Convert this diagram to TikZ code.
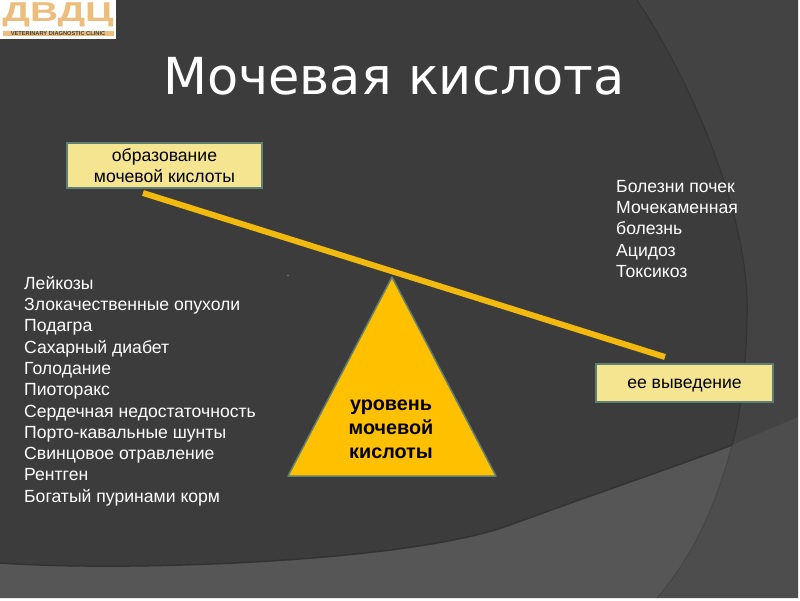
\documentclass[tikz,border=0pt]{standalone}
\usepackage{fontspec}
\usepackage{graphicx}
\setmainfont{Liberation Sans}
\newfontfamily\titlefont{DejaVu Sans}
\definecolor{basedark}{HTML}{3C3C3C}
\definecolor{rightdark}{HTML}{434343}
\definecolor{lowleft}{HTML}{565656}
\definecolor{lowright}{HTML}{4D4D4D}
\definecolor{arcline}{HTML}{333333}
\definecolor{boxfill}{HTML}{F5E591}
\definecolor{boxedge}{HTML}{5F7F74}
\definecolor{beam}{HTML}{F2B90F}
\definecolor{triangfill}{HTML}{FFC000}
\definecolor{logotan}{HTML}{EBBE7E}
\newcommand{\lowered}[1]{\raisebox{-2.5pt}[\height][\depth]{#1}}
\tikzset{
  labelbox/.style={draw=boxedge,line width=2pt,fill=boxfill,inner sep=0pt,align=center,text=black,font=\fontsize{17.6}{21}\selectfont},
  listtext/.style={anchor=north west,inner sep=0pt,align=left,text=white,font=\fontsize{17.6}{21.3}\selectfont},
}
\begin{document}
\begin{tikzpicture}[x=1pt,y=-1pt]
\useasboundingbox (0,0) rectangle (800,600);
\fill[white] (0,0) rectangle (800,600);
% background regions
\fill[basedark] (0,0) rectangle (798,598);
\fill[rightdark] (637,0) .. controls (700,95) and (752,230) .. (747,320) .. controls (746,370) and (740,420) .. (732,445) -- (798,417) -- (798,0) -- cycle;
\fill[lowleft] (0,563) .. controls (130,572) and (410,562) .. (510,525) .. controls (600,492) and (680,465) .. (732,445) .. controls (715,510) and (690,560) .. (657,598) -- (0,598) -- cycle;
\fill[lowright] (732,445) -- (798,417) -- (798,598) -- (657,598) .. controls (690,560) and (715,510) .. (732,445) -- cycle;
\draw[arcline,line width=1pt] (637,0) .. controls (700,95) and (752,230) .. (747,320) .. controls (746,370) and (740,420) .. (732,445);
\draw[arcline!50!lowleft,line width=1pt] (732,445) .. controls (715,510) and (690,560) .. (657,598);
\draw[arcline,line width=1.5pt] (0,563) .. controls (130,572) and (410,562) .. (510,525) .. controls (600,492) and (680,465) .. (732,445);
% logo
\fill[white] (0,0) rectangle (116,39);
\node[inner sep=0pt,text=logotan] (logomark) at (58,15) {\scalebox{1.85}[1.3]{\fontsize{21}{21}\selectfont\bfseries ДВДЦ}};
\fill[logotan] (3,31) rectangle (114,36);
\node[inner sep=0pt,text=black!75] (logotext) at (58,33.5) {\fontsize{5.7}{5.7}\selectfont\bfseries VETERINARY DIAGNOSTIC CLINIC};
% title
\node[inner sep=0pt,anchor=base west,text=white] (title) at (163,94) {\titlefont\fontsize{51}{51}\selectfont Мочевая кислота};
% lists
\node[listtext] (right list) at (616,180) {Болезни почек\\Мочекаменная\\болезнь\\Ацидоз\\Токсикоз};
\node[listtext] (left list) at (24,276) {Лейкозы\\Злокачественные опухоли\\Подагра\\Сахарный диабет\\Голодание\\Пиоторакс\\Сердечная недостаточность\\Порто-кавальные шунты\\Свинцовое отравление\\Рентген\\Богатый пуринами корм};
% boxes
\node[labelbox,minimum width=195pt,minimum height=45pt] (source) at (164.5,165.5) {образование\\мочевой кислоты};
\node[labelbox,minimum width=177pt,minimum height=38pt] (removal) at (684.5,383) {\lowered{ее выведение}};
% beam
\coordinate (beam start) at (143,193);
\coordinate (beam end) at (665,357);
\draw[beam,line width=6pt] (beam start) -- (beam end);
% triangle
\coordinate (apex) at (392,277);
\coordinate (base left) at (288,476);
\coordinate (base right) at (496,476);
\draw[boxedge,line width=1.5pt,fill=triangfill,line join=round] (apex) -- (base right) -- (base left) -- cycle;
\node[inner sep=0pt,align=center,text=black,font=\fontsize{19.8}{24}\selectfont\bfseries] (level) at (391,429) {уровень\\мочевой\\кислоты};
\fill[gray] (288,275.5) circle (0.8);
\end{tikzpicture}
\end{document}
